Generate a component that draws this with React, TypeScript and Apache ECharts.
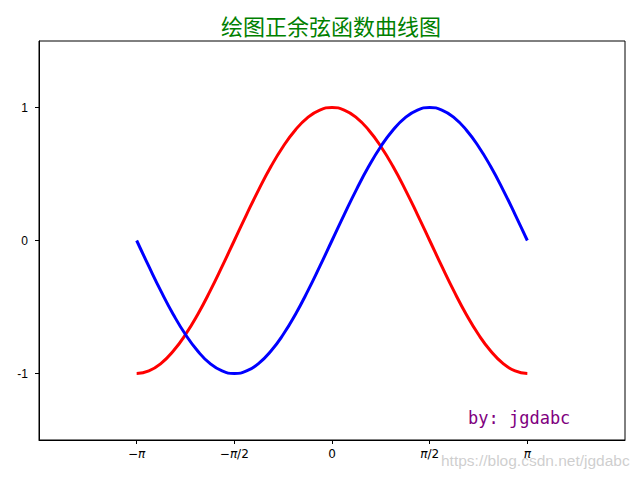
import React, { useEffect, useRef } from "react";
import * as echarts from "echarts";

const PI = Math.PI;
// sample positions (radians), step pi/16
const xs = [
  -3.1416, -2.9452, -2.7489, -2.5525, -2.3562, -2.1598, -1.9635, -1.7671, -1.5708, -1.3744, -1.1781, -0.9817, -0.7854, -0.589, -0.3927, -0.1963,
  0, 0.1963, 0.3927, 0.589, 0.7854, 0.9817, 1.1781, 1.3744, 1.5708, 1.7671, 1.9635, 2.1598, 2.3562, 2.5525, 2.7489, 2.9452, 3.1416,
];
const sinValues = [
  0, -0.195, -0.383, -0.556, -0.707, -0.831, -0.924, -0.981, -1, -0.981, -0.924, -0.831, -0.707, -0.556, -0.383, -0.195,
  0, 0.195, 0.383, 0.556, 0.707, 0.831, 0.924, 0.981, 1, 0.981, 0.924, 0.831, 0.707, 0.556, 0.383, 0.195, 0,
];
const cosValues = [
  -1, -0.981, -0.924, -0.831, -0.707, -0.556, -0.383, -0.195, 0, 0.195, 0.383, 0.556, 0.707, 0.831, 0.924, 0.981,
  1, 0.981, 0.924, 0.831, 0.707, 0.556, 0.383, 0.195, 0, -0.195, -0.383, -0.556, -0.707, -0.831, -0.924, -0.981, -1,
];
const xTickValues = [-PI, -PI / 2, 0, PI / 2, PI];
const xTickLabels = ["{m|−}{p|π}", "{m|−}{p|π}{m|/2}", "{m|0}", "{p|π}{m|/2}", "{p|π}"];
const yTickValues = [-1, 0, 1];
const yTickLabels = ["-1", "0", "1"];
const titleText = "绘图正余弦函数曲线图";
const signText = "by: jgdabc";
const watermark = "https://blog.csdn.net/jgdabc";

export default function App() {
  const ref = useRef<HTMLDivElement>(null);
  useEffect(() => {
    const chart = echarts.init(ref.current!, null, { renderer: "svg" });
    const labelFont = "DejaVu Sans";
    chart.setOption({
      animation: false,
      backgroundColor: "#ffffff",
      title: {
        text: titleText,
        left: 216,
        top: 9,
        textStyle: { color: "#008000", fontSize: 22, fontWeight: "normal", fontFamily: "Noto Sans CJK SC" },
      },
      grid: {
        left: 39,
        right: 15,
        top: 41,
        bottom: 40,
        show: true,
        borderColor: "#000",
        borderWidth: 1,
        backgroundColor: "transparent",
      },
      xAxis: {
        type: "value",
        min: -1.5 * PI,
        max: 1.5 * PI,
        interval: PI / 2,
        splitLine: { show: false },
        axisLine: { show: true, onZero: false, lineStyle: { color: "#000", width: 1 } },
        axisTick: { show: true, length: 4, lineStyle: { color: "#000" }, customValues: xTickValues },
        axisLabel: {
          margin: 8,
          customValues: xTickValues,
          formatter: (v: number) => {
            const i = xTickValues.findIndex((t) => Math.abs(t - v) < 1e-6);
            return i >= 0 ? xTickLabels[i] : "";
          },
          rich: {
            m: { fontFamily: labelFont, fontSize: 12, color: "#000" },
            p: { fontFamily: labelFont, fontSize: 12, fontStyle: "italic", color: "#000" },
          },
        },
      },
      yAxis: {
        type: "value",
        min: -1.5,
        max: 1.5,
        splitLine: { show: false },
        axisLine: { show: true, onZero: false, lineStyle: { color: "#000", width: 1 } },
        axisTick: { show: true, length: 4, lineStyle: { color: "#000" }, customValues: yTickValues },
        axisLabel: {
          margin: 11,
          customValues: yTickValues,
          color: "#000",
          fontSize: 12,
          fontFamily: "Liberation Sans",
          formatter: (v: number) => {
            const i = yTickValues.findIndex((t) => Math.abs(t - v) < 1e-6);
            return i >= 0 ? yTickLabels[i] : "";
          },
        },
      },
      series: [
        {
          name: "cos",
          type: "line",
          smooth: true,
          showSymbol: false,
          data: xs.map((x, i) => [x, cosValues[i]]),
          lineStyle: { color: "#ff0000", width: 3 },
          itemStyle: { color: "#ff0000" },
        },
        {
          name: "sin",
          type: "line",
          smooth: true,
          showSymbol: false,
          data: xs.map((x, i) => [x, sinValues[i]]),
          lineStyle: { color: "#0000ff", width: 3 },
          itemStyle: { color: "#0000ff" },
        },
      ],
      graphic: [
        {
          type: "text",
          left: 468,
          top: 409,
          style: { text: signText, fill: "#800080", fontSize: 17, fontFamily: "DejaVu Sans Mono" },
        },
        {
          type: "text",
          left: 441,
          top: 452,
          style: { text: watermark, fill: "rgba(190,190,190,0.75)", fontSize: 15.5, fontFamily: "Liberation Sans" },
        },
      ],
    });
    return () => chart.dispose();
  }, []);
  return <div ref={ref} style={{ position: "fixed", left: 0, top: 0, width: 640, height: 480 }} />;
}
